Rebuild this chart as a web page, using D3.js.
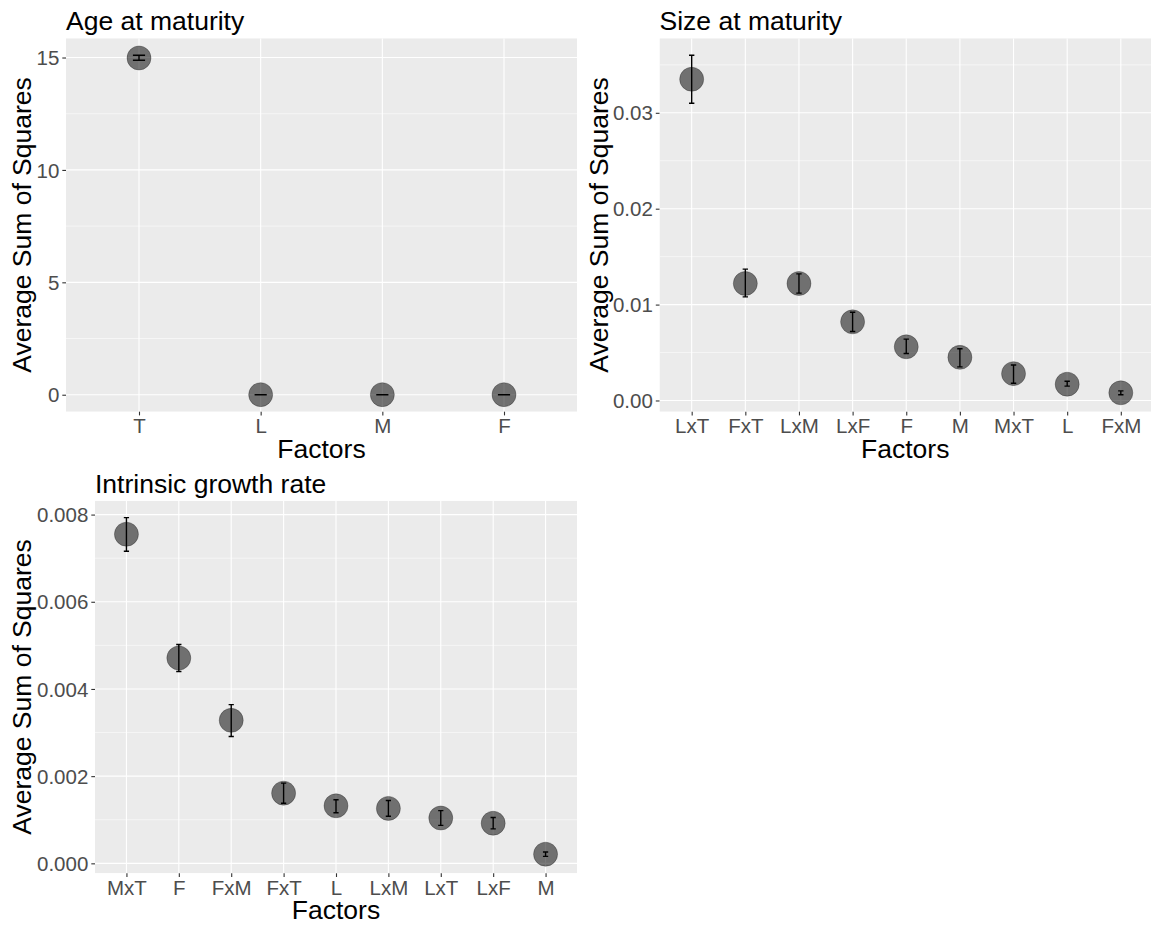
<!DOCTYPE html>
<html>
<head>
<meta charset="utf-8">
<script src="https://cdn.jsdelivr.net/npm/d3@7"></script>
<style>
  body { margin: 0; background: #fff; }
  text { font-family: "Liberation Sans", Arial, sans-serif; }
</style>
</head>
<body>
<svg id="CHART" width="1151" height="925"></svg>
<script>
// Age at maturity
const ageFactors = ["T", "L", "M", "F"];
const ageMean = [14.98, 0.003, 0.003, 0.003];
const ageLower = [14.88, 0.0, 0.0, 0.0];
const ageUpper = [15.1, 0.006, 0.006, 0.006];

// Size at maturity
const sizeFactors = ["LxT", "FxT", "LxM", "LxF", "F", "M", "MxT", "L", "FxM"];
const sizeMean = [0.0335, 0.0122, 0.0122, 0.0082, 0.0056, 0.0045, 0.0028, 0.0017, 0.0008];
const sizeLower = [0.031, 0.0108, 0.0112, 0.0072, 0.0049, 0.0035, 0.0018, 0.0015, 0.0006];
const sizeUpper = [0.036, 0.0137, 0.0132, 0.0092, 0.0064, 0.0054, 0.0037, 0.002, 0.001];

// Intrinsic growth rate
const growthFactors = ["MxT", "F", "FxM", "FxT", "L", "LxM", "LxT", "LxF", "M"];
const growthMean = [0.00755, 0.00471, 0.00328, 0.00161, 0.00132, 0.00126, 0.00104, 0.00092, 0.00021];
const growthLower = [0.00716, 0.0044, 0.00291, 0.00138, 0.00116, 0.00108, 0.00087, 0.00079, 0.00016];
const growthUpper = [0.00793, 0.00502, 0.00364, 0.00184, 0.00146, 0.00144, 0.00121, 0.00105, 0.00026];

const ageTicks = [0, 5, 10, 15];
const sizeTicks = [0, 0.01, 0.02, 0.03];
const growthTicks = [0, 0.002, 0.004, 0.006, 0.008];

const svg = d3.select("#CHART");

const panelChart = {
  draw: function (opt) {
    const { x0, x1, y0, y1 } = opt.box;
    const rows = opt.factors.map((f, i) => ({
      f: f,
      mean: opt.mean[i],
      lo: opt.lower[i],
      hi: opt.upper[i],
    }));

    // ggplot style 5% expansion
    const lo = d3.min(opt.lower);
    const hi = d3.max(opt.upper);
    const pad = (hi - lo) * 0.05;

    const x = d3.scalePoint().domain(opt.factors).range([x0, x1]).padding(0.6);
    const y = d3.scaleLinear().domain([lo - pad, hi + pad]).range([y1, y0]);

    const g = svg.append("g");
    const clipId = "clip-" + opt.id;
    g.append("clipPath")
      .attr("id", clipId)
      .append("rect")
      .attr("x", x0)
      .attr("y", y0)
      .attr("width", x1 - x0)
      .attr("height", y1 - y0);

    const plot = g.append("g").attr("clip-path", `url(#${clipId})`);
    plot
      .append("rect")
      .attr("x", x0)
      .attr("y", y0)
      .attr("width", x1 - x0)
      .attr("height", y1 - y0)
      .attr("fill", "#EBEBEB");

    const step = opt.ticks[1] - opt.ticks[0];
    const minor = d3
      .range(opt.ticks[0] - step / 2, hi + pad + step, step)
      .filter((v) => v > lo - pad && v < hi + pad);

    plot
      .selectAll(".minor")
      .data(minor)
      .join("line")
      .attr("x1", x0)
      .attr("x2", x1)
      .attr("y1", (d) => y(d))
      .attr("y2", (d) => y(d))
      .attr("stroke", "#fff")
      .attr("stroke-width", 0.55);

    plot
      .selectAll(".major")
      .data(opt.ticks)
      .join("line")
      .attr("x1", x0)
      .attr("x2", x1)
      .attr("y1", (d) => y(d))
      .attr("y2", (d) => y(d))
      .attr("stroke", "#fff")
      .attr("stroke-width", 1.1);

    plot
      .selectAll(".vgrid")
      .data(opt.factors)
      .join("line")
      .attr("x1", (d) => x(d))
      .attr("x2", (d) => x(d))
      .attr("y1", y0)
      .attr("y2", y1)
      .attr("stroke", "#fff")
      .attr("stroke-width", 1.1);

    plot
      .selectAll("circle")
      .data(rows)
      .join("circle")
      .attr("cx", (d) => x(d.f))
      .attr("cy", (d) => y(d.mean))
      .attr("r", 12)
      .attr("fill", "#000")
      .attr("fill-opacity", 0.52)
      .attr("stroke", "#000")
      .attr("stroke-opacity", 0.55)
      .attr("stroke-width", 0.5);

    const cap = x.step() * 0.05;
    plot
      .selectAll(".err")
      .data(rows)
      .join("path")
      .attr("d", (d) => {
        const cx = x(d.f);
        return `M${cx - cap},${y(d.hi)}H${cx + cap}M${cx},${y(d.hi)}V${y(d.lo)}M${cx - cap},${y(d.lo)}H${cx + cap}`;
      })
      .attr("fill", "none")
      .attr("stroke", "#000")
      .attr("stroke-width", 1.4);

    // axes
    const yAxis = d3
      .axisLeft(y)
      .tickValues(opt.ticks)
      .tickFormat(d3.format(opt.fmt))
      .tickSize(3.7)
      .tickPadding(3);
    const yg = g.append("g").attr("transform", `translate(${x0},0)`).call(yAxis);

    const xAxis = d3.axisBottom(x).tickSize(3.7).tickPadding(3);
    const xg = g.append("g").attr("transform", `translate(0,${y1})`).call(xAxis);

    [yg, xg].forEach((a) => {
      a.select(".domain").remove();
      a.selectAll(".tick line").attr("stroke", "#333").attr("stroke-width", 1.1);
      a.selectAll(".tick text")
        .attr("fill", "#4D4D4D")
        .style("font-size", "20.5px")
        .style("font-family", '"Liberation Sans", Arial, sans-serif');
    });
    yg.selectAll(".tick text").attr("dy", "0.35em");
    xg.selectAll(".tick text").attr("dy", "0.71em");

    // titles
    g.append("text")
      .attr("x", x0)
      .attr("y", y0 - 8)
      .style("font-size", "26.5px")
      .attr("fill", "#000")
      .text(opt.title);

    g.append("text")
      .attr("x", (x0 + Math.min(x1, 1151)) / 2)
      .attr("y", y1 + 46)
      .style("font-size", "26.5px")
      .style("text-anchor", "middle")
      .attr("fill", "#000")
      .text("Factors");

    g.append("text")
      .attr("transform", `translate(${opt.yTitleX},${(y0 + y1) / 2}) rotate(-90)`)
      .style("font-size", "26.5px")
      .style("text-anchor", "middle")
      .attr("fill", "#000")
      .text("Average Sum of Squares");
  },
};

panelChart.draw({
  id: "age",
  title: "Age at maturity",
  factors: ageFactors,
  mean: ageMean,
  lower: ageLower,
  upper: ageUpper,
  ticks: ageTicks,
  fmt: "d",
  box: { x0: 66, x1: 577, y0: 38.3, y1: 411.7 },
  yTitleX: 31,
});

panelChart.draw({
  id: "size",
  title: "Size at maturity",
  factors: sizeFactors,
  mean: sizeMean,
  lower: sizeLower,
  upper: sizeUpper,
  ticks: sizeTicks,
  fmt: ".2f",
  box: { x0: 659.5, x1: 1153, y0: 38.3, y1: 411.7 },
  yTitleX: 608,
});

panelChart.draw({
  id: "growth",
  title: "Intrinsic growth rate",
  factors: growthFactors,
  mean: growthMean,
  lower: growthLower,
  upper: growthUpper,
  ticks: growthTicks,
  fmt: ".3f",
  box: { x0: 95, x1: 577, y0: 500.7, y1: 873.3 },
  yTitleX: 31,
});
</script>
</body>
</html>
